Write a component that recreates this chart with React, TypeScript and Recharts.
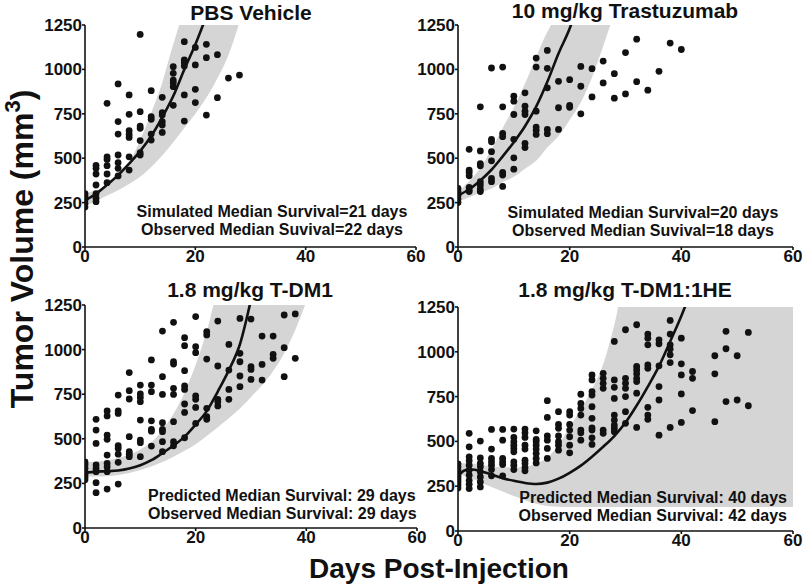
import React from 'react';
import { ComposedChart, Scatter, Line, Area, XAxis, YAxis } from 'recharts';

// ── Data ─────────────────────────────────────────────────────────
// each scatter column: [day, tumor volumes measured that day]
type Col = [number, number[]];

const xTicks = [0, 20, 40, 60];
const yTicks = [0, 250, 500, 750, 1000, 1250];

// PBS Vehicle
const pbsPoints: Col[] = [
  [0, [300, 285, 265, 245, 225]],
  [2, [460, 443, 411, 349, 300, 275, 255]],
  [4, [809, 508, 493, 458, 411, 362]],
  [6, [918, 706, 636, 518, 475, 443, 400]],
  [8, [856, 747, 655, 634, 617, 508, 433]],
  [10, [1197, 762, 681, 668, 599, 531, 518]],
  [12, [880, 734, 719, 636, 602]],
  [14, [843, 756, 743, 706, 687, 645]],
  [16, [1015, 978, 940, 925, 903, 798]],
  [18, [1156, 1053, 1038, 1019, 856, 709]],
  [20, [1124, 1025, 888, 813]],
  [22, [1141, 1066, 743]],
  [24, [1083, 841]],
  [26, [951]],
  [28, [968]],
];
const pbsCurveDays = [0, 2, 4, 6, 8, 10, 12, 14, 16, 18, 20, 22];
const pbsCurve = [262, 300, 350, 405, 470, 540, 625, 730, 850, 1000, 1140, 1300];
const pbsBandDays = [0, 2, 4, 6, 8, 10, 12, 14, 16, 18, 20, 22, 24, 26, 28];
const pbsBandLow = [230, 260, 290, 320, 355, 395, 450, 515, 590, 670, 750, 840, 950, 1080, 1265];
const pbsBandHigh = [300, 320, 345, 400, 475, 602, 755, 925, 1140, 1300, 1300, 1300, 1300, 1300, 1300];

// 10 mg/kg Trastuzumab
const trzPoints: Col[] = [
  [0, [330, 312, 290, 270, 250]],
  [2, [550, 433, 420, 401, 336, 323, 312]],
  [4, [789, 541, 470, 457, 368, 349, 327, 312]],
  [6, [1008, 606, 592, 537, 485, 386, 368]],
  [8, [1013, 789, 640, 621, 420, 405, 341]],
  [10, [849, 821, 746, 606, 502, 438]],
  [12, [868, 793, 765, 746, 584, 560]],
  [14, [1064, 1013, 765, 675, 657, 634]],
  [16, [1107, 1006, 896, 662, 638]],
  [18, [933, 784, 662]],
  [20, [942, 797, 787]],
  [22, [1017, 905, 750]],
  [24, [1004, 845]],
  [26, [1047, 924]],
  [28, [976, 838]],
  [30, [1095, 862]],
  [32, [1170, 931]],
  [34, [883]],
  [36, [989]],
  [38, [1148]],
  [40, [1112]],
];
const trzCurveDays = [0, 2, 4, 6, 8, 10, 12, 14, 16, 18, 20, 22];
const trzCurve = [290, 325, 375, 435, 510, 590, 680, 790, 930, 1090, 1230, 1420];
const trzBandDays = [0, 2, 4, 6, 8, 10, 12, 14, 16, 18, 20, 22, 24, 26, 28];
const trzBandLow = [255, 280, 305, 330, 365, 395, 440, 485, 560, 625, 715, 815, 955, 1130, 1320];
const trzBandHigh = [311, 370, 445, 550, 670, 785, 920, 1070, 1210, 1300, 1300, 1300, 1300, 1300, 1300];

// 1.8 mg/kg T-DM1
const tdmPoints: Col[] = [
  [0, [370, 355, 335, 315, 300, 285, 270]],
  [2, [609, 549, 474, 353, 334, 316, 254, 198]],
  [4, [656, 628, 521, 497, 409, 362, 343, 316, 218]],
  [6, [745, 657, 642, 461, 446, 414, 368, 246]],
  [8, [871, 770, 723, 512, 428, 414, 400]],
  [10, [801, 751, 732, 708, 605, 493, 478, 400]],
  [12, [942, 801, 764, 601, 553, 543, 459]],
  [14, [1104, 848, 749, 590, 553, 540, 484, 428]],
  [16, [1153, 932, 919, 783, 749, 596, 484, 461]],
  [18, [1067, 1022, 882, 796, 777, 695, 648, 506]],
  [20, [1185, 1016, 983, 740, 721, 676, 586]],
  [22, [1100, 1082, 947, 671, 624, 609]],
  [24, [1160, 908, 721, 708, 684]],
  [26, [1029, 885, 777, 721]],
  [28, [1175, 979, 932, 852, 792]],
  [30, [1171, 904, 889, 833]],
  [32, [1076, 917, 829]],
  [34, [1076, 973, 951]],
  [36, [1194, 1011, 848]],
  [38, [1200, 951]],
];
const tdmCurveDays = [0, 2, 4, 6, 8, 10, 12, 14, 16, 18, 20, 22, 24, 26, 28, 30];
const tdmCurve = [310, 316, 318, 322, 333, 352, 380, 420, 462, 512, 580, 655, 765, 885, 1030, 1280];
const tdmBandDays = [0, 2, 4, 6, 8, 10, 12, 14, 16, 18, 20, 22, 24, 26, 28, 30, 32, 34, 36, 38, 40];
const tdmBandLow = [287, 288, 290, 297, 308, 325, 345, 370, 400, 433, 470, 515, 565, 615, 670, 735, 800, 880, 980, 1110, 1270];
const tdmBandHigh = [370, 372, 380, 392, 410, 440, 480, 550, 640, 760, 915, 1100, 1300, 1300, 1300, 1300, 1300, 1300, 1300, 1300, 1300];

// 1.8 mg/kg T-DM1:1HE
const hePoints: Col[] = [
  [0, [375, 358, 340, 322, 305, 290, 275, 258, 240]],
  [2, [545, 470, 414, 392, 367, 339, 311, 283, 261, 237]],
  [4, [502, 408, 377, 358, 330, 302, 274, 246]],
  [6, [567, 457, 405, 386, 367, 343, 308]],
  [8, [567, 507, 405, 386, 371, 308]],
  [10, [569, 522, 498, 479, 461, 442, 386, 367, 343]],
  [12, [569, 548, 522, 479, 457, 395, 377, 354, 336]],
  [14, [559, 511, 498, 479, 457, 433, 405, 380]],
  [16, [727, 634, 530, 507, 461, 405]],
  [18, [666, 595, 573, 530, 498, 479, 451]],
  [20, [666, 647, 595, 563, 526, 479, 436]],
  [22, [763, 712, 684, 647, 563, 548, 507]],
  [24, [871, 843, 778, 759, 694, 629, 576, 563, 520, 483]],
  [26, [880, 852, 824, 796, 563, 545]],
  [28, [1058, 843, 802, 740, 647, 619, 591, 573, 554]],
  [30, [1123, 852, 825, 796, 750, 666, 601]],
  [32, [1151, 918, 899, 877, 852, 834, 769, 578]],
  [34, [1099, 1076, 1039, 927, 908, 690, 647, 623]],
  [36, [1067, 1045, 922, 806, 731, 535]],
  [38, [1175, 1099, 1039, 1015, 983, 940, 578]],
  [40, [1076, 933, 871, 765, 606]],
  [42, [890, 852, 672]],
  [46, [978, 877, 610]],
  [48, [1114, 1017, 722]],
  [50, [978, 731]],
  [52, [1108, 699]],
];
const heCurveDays = [0, 1, 2, 3, 4, 6, 8, 10, 12, 14, 16, 18, 20, 22, 24, 26, 28, 30, 32, 34, 36, 38, 40, 42];
const heCurve = [305, 335, 345, 342, 335, 315, 295, 280, 268, 262, 270, 292, 325, 365, 415, 470, 530, 605, 700, 806, 920, 1058, 1200, 1360];
const heBandDays = [0, 2, 4, 6, 8, 10, 12, 14, 16, 18, 20, 22, 24, 26, 28, 30, 40, 50, 60];
const heBandLow = [320, 300, 272, 245, 220, 195, 172, 152, 140, 135, 134, 134, 134, 134, 134, 134, 134, 134, 134];
const heBandHigh = [378, 378, 370, 362, 356, 355, 360, 375, 410, 480, 580, 680, 790, 930, 1150, 1400, 1400, 1400, 1400];

// ── Helpers ─────────────────────────────────────────────────────
const FONT = "'Liberation Sans', Arial, Helvetica, sans-serif";
const INK = '#111';
const BAND = '#d5d5d5';

const flatten = (cols: Col[]) => cols.flatMap(([day, vs]) => vs.map((v) => ({ day, v })));
const series = (days: number[], vals: number[]) => days.map((day, i) => ({ day, v: vals[i] }));
const range = (days: number[], lo: number[], hi: number[]) =>
  days.map((day, i) => ({ day, v: [lo[i], hi[i]] }));

const Y_W = 60;
const M_TOP = 10;
const M_RIGHT = 10;
const X_H = 30;

const tickStyle = { fontSize: 17, fontWeight: 700, fill: INK, fontFamily: FONT };

const Dot = (p: any) => <circle cx={p.cx} cy={p.cy} r={3.4} fill={INK} />;

interface PanelProps {
  left: number;
  top: number;
  plotW: number;
  plotH: number;
  points: { day: number; v: number }[];
  curve: { day: number; v: number }[];
  band: { day: number; v: number[] }[];
}

function Panel({ left, top, plotW, plotH, points, curve, band }: PanelProps) {
  return (
    <div style={{ position: 'absolute', left: left - Y_W, top: top - M_TOP }}>
      <ComposedChart
        width={Y_W + plotW + M_RIGHT}
        height={M_TOP + plotH + X_H}
        margin={{ top: M_TOP, right: M_RIGHT, bottom: 0, left: 0 }}
      >
        <XAxis
          type="number"
          dataKey="day"
          domain={[0, 60]}
          ticks={xTicks}
          interval={0}
          allowDataOverflow
          height={X_H}
          tick={tickStyle}
          tickSize={3}
          tickMargin={0}
          axisLine={{ stroke: INK, strokeWidth: 1.6 }}
          tickLine={{ stroke: INK, strokeWidth: 1.6 }}
        />
        <YAxis
          type="number"
          domain={[0, 1250]}
          ticks={yTicks}
          interval={0}
          allowDataOverflow
          width={Y_W}
          tick={tickStyle}
          tickSize={3}
          tickMargin={0}
          axisLine={{ stroke: INK, strokeWidth: 1.6 }}
          tickLine={{ stroke: INK, strokeWidth: 1.6 }}
        />
        <Area
          data={band}
          dataKey="v"
          type="monotone"
          stroke="none"
          fill={BAND}
          fillOpacity={1}
          isAnimationActive={false}
        />
        <Scatter data={points} dataKey="v" shape={Dot} isAnimationActive={false} />
        <Line
          data={curve}
          dataKey="v"
          type="monotone"
          stroke={INK}
          strokeWidth={2.6}
          dot={false}
          isAnimationActive={false}
        />
      </ComposedChart>
    </div>
  );
}

export default function App() {
  const t = { fontFamily: FONT, fontWeight: 700, fill: INK } as const;
  return (
    <div style={{ position: 'absolute', left: 0, top: 0, width: 803, height: 587, background: '#fff' }}>
      <Panel left={85} top={25} plotW={331} plotH={222}
        points={flatten(pbsPoints)} curve={series(pbsCurveDays, pbsCurve)}
        band={range(pbsBandDays, pbsBandLow, pbsBandHigh)} />
      <Panel left={458} top={25} plotW={335} plotH={222}
        points={flatten(trzPoints)} curve={series(trzCurveDays, trzCurve)}
        band={range(trzBandDays, trzBandLow, trzBandHigh)} />
      <Panel left={85} top={305} plotW={332} plotH={223}
        points={flatten(tdmPoints)} curve={series(tdmCurveDays, tdmCurve)}
        band={range(tdmBandDays, tdmBandLow, tdmBandHigh)} />
      <Panel left={458} top={307} plotW={335} plotH={224}
        points={flatten(hePoints)} curve={series(heCurveDays, heCurve)}
        band={range(heBandDays, heBandLow, heBandHigh)} />

      {/* titles, annotations and shared axis titles */}
      <svg width={803} height={587} style={{ position: 'absolute', left: 0, top: 0, pointerEvents: 'none' }}>
        <g {...t} fontSize={21} textAnchor="middle">
          <text x={251} y={20}>PBS Vehicle</text>
          <text x={625} y={18}>10 mg/kg Trastuzumab</text>
          <text x={250} y={297}>1.8 mg/kg T-DM1</text>
          <text x={625} y={297}>1.8 mg/kg T-DM1:1HE</text>
        </g>
        <g {...t} fontSize={16}>
          <text x={272} y={217} textAnchor="middle">Simulated Median Survival=21 days</text>
          <text x={272} y={235} textAnchor="middle">Observed Median Suvival=22 days</text>
          <text x={643} y={218} textAnchor="middle">Simulated Median Survival=20 days</text>
          <text x={643} y={236} textAnchor="middle">Observed Median Suvival=18 days</text>
          <text x={148} y={501}>Predicted Median Survival: 29 days</text>
          <text x={148} y={519}>Observed Median Survival: 29 days</text>
          <text x={787} y={503} textAnchor="end">Predicted Median Survival: 40 days</text>
          <text x={787} y={521} textAnchor="end">Observed Median Survival: 42 days</text>
        </g>
        <text {...t} x={439} y={578} fontSize={28} textAnchor="middle">Days Post-Injection</text>
        <text {...t} fontSize={32} textAnchor="middle" transform="translate(33,249) rotate(-90)">
          Tumor Volume (mm<tspan fontSize={22} dy={-13}>3</tspan><tspan dy={13}>)</tspan>
        </text>
      </svg>
    </div>
  );
}
